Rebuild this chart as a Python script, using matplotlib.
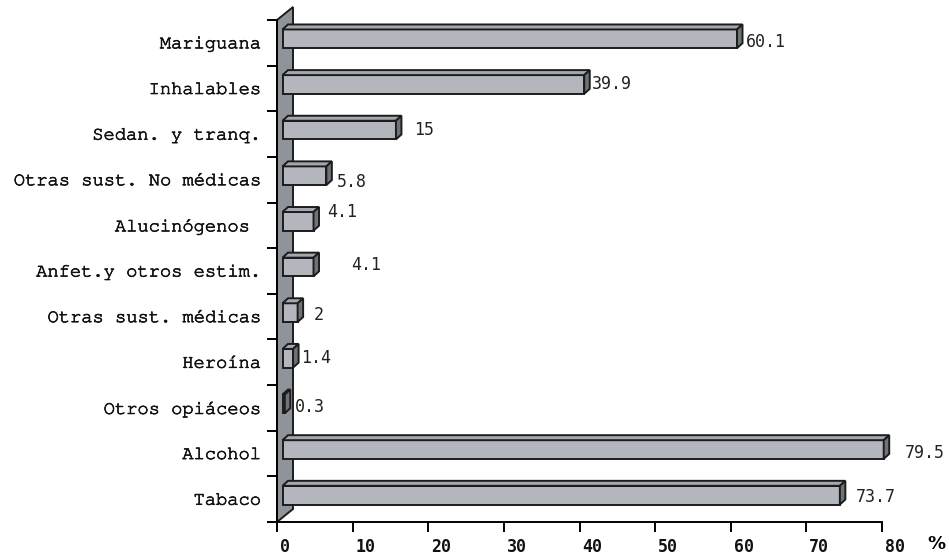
import matplotlib
matplotlib.use('Agg')
import matplotlib.pyplot as plt
import matplotlib.transforms as mtransforms
import matplotlib.patheffects as pe
from matplotlib.patches import Polygon

categories = ['Mariguana', 'Inhalables', 'Sedan. y tranq.', 'Otras sust. No médicas',
              'Alucinógenos ', 'Anfet.y otros estim.', 'Otras sust. médicas',
              'Heroína', 'Otros opiáceos', 'Alcohol', 'Tabaco']
values = [60.1, 39.9, 15, 5.8, 4.1, 4.1, 2, 1.4, 0.3, 79.5, 73.7]
value_labels = ['60.1', '39.9', '15', '5.8', '4.1', '4.1', '2', '1.4', '0.3', '79.5', '73.7']
xticks = [0, 10, 20, 30, 40, 50, 60, 70, 80]

# label nudges in pixels (right of bar side face, down)
label_dx = [3.6, 2, 12.6, 5, 8, 32, 11, 2.5, 5, 16, 11]
label_dy = [3, 0, 0, 6, -9, -2, 2, 0, 3, 3, 1.5]

front_col = '#b3b6bd'
top_col = '#a3a7ae'
side_col = '#6c7477'
wall_col = '#8e9499'
edge_col = '#1c1c1c'
lw = 1.4
mono = ['Courier New', 'Nimbus Mono PS', 'FreeMono', 'Liberation Mono']

W, H = 949, 558
fig = plt.figure(figsize=(W / 100, H / 100), dpi=100)
ax = fig.add_axes([277 / W, (H - 522) / H, 605 / W, 502 / H])
n = len(categories)
ax.set_xlim(0, 80)
ax.set_ylim(n - 0.5, -0.5)

ppx = 605 / 80.0
ppy = 502 / float(n)

def px(dx, dy):
    # pixel offset (right, up) -> data offset
    return dx / ppx, -dy / ppy

# wall
wx, wy = px(16, 13)
wall = Polygon([(0, n - 0.5), (0, -0.5), (wx, -0.5 + wy), (wx, n - 0.5 + wy)],
               closed=True, facecolor=wall_col, edgecolor=edge_col, lw=lw,
               clip_on=False, zorder=1)
ax.add_patch(wall)

# bars
bx, by = px(5.5, 4)
dx, dy = px(5.5, 5)
h = 18.7 / ppy
for i, v in enumerate(values):
    yc = i + by
    yt = yc - h / 2
    yb = yc + h / 2
    x0 = bx
    x1 = bx + v
    ax.barh(yc, v, left=x0, height=h, color=front_col, edgecolor=edge_col,
            lw=lw, zorder=3, clip_on=False)
    top = Polygon([(x0, yt), (x1, yt), (x1 + dx, yt + dy), (x0 + dx, yt + dy)],
                  closed=True, facecolor=top_col, edgecolor=edge_col, lw=lw,
                  zorder=3, clip_on=False)
    side = Polygon([(x1, yt), (x1, yb), (x1 + dx, yb + dy), (x1 + dx, yt + dy)],
                   closed=True, facecolor=side_col, edgecolor=edge_col, lw=lw,
                   zorder=3, clip_on=False)
    ax.add_patch(top)
    ax.add_patch(side)
    tr = mtransforms.offset_copy(ax.transData, fig=fig, x=label_dx[i], y=-label_dy[i], units='dots')
    ax.text(x1 + dx, yc, value_labels[i], transform=tr, ha='left', va='center',
            family='DejaVu Sans Mono', fontsize=12, color='#222222', clip_on=False)

# axes styling
for s in ['top', 'right']:
    ax.spines[s].set_visible(False)
ax.spines['left'].set_linewidth(lw)
ax.spines['bottom'].set_linewidth(lw)
ax.spines['left'].set_zorder(2)
ax.patch.set_visible(False)

ax.set_yticks(range(n))
ax.set_yticklabels(categories, family=mono, fontsize=13.5, color='#111111')
for lab in ax.get_yticklabels():
    lab.set_path_effects([pe.withStroke(linewidth=0.5, foreground='#111111')])
    lab.set_verticalalignment('center_baseline')
ax.set_yticks([i - 0.5 for i in range(n + 1)], minor=True)
ax.tick_params(axis='y', which='major', length=0, pad=11.5)
ax.tick_params(axis='y', which='minor', length=7.2, width=lw, direction='out')

ax.set_xticks(xticks)
ax.set_xticklabels([str(t) for t in xticks], family='DejaVu Sans Mono',
                   fontsize=12, fontweight='bold', color='#111111')
ax.tick_params(axis='x', length=7.2, width=lw, direction='out', pad=4)
shift = mtransforms.ScaledTranslation(3 / 100, 0, fig.dpi_scale_trans)
for lab in ax.get_xticklabels():
    lab.set_horizontalalignment('left')
    lab.set_transform(lab.get_transform() + shift)

fig.text(936 / W, 1 - 544 / H, '%', ha='center', va='center', fontsize=13,
         fontweight='bold', family='DejaVu Sans')

fig.savefig('out.png', dpi=100, facecolor='white')
